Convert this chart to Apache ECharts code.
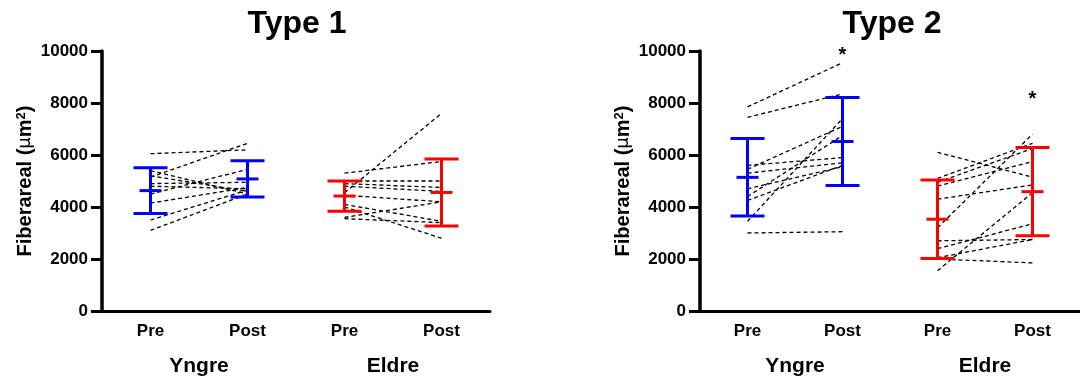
<!DOCTYPE html>
<html>
<head>
<meta charset="utf-8">
<script src="https://cdn.jsdelivr.net/npm/echarts@6/dist/echarts.min.js"></script>
<style>
  html, body { margin: 0; background: #fff; }
  #main { width: 1080px; height: 378px; }
</style>
</head>
<body>
<div id="main"></div>
<script>
// categories on the x axis (group + time point)
const categories = ["Yngre Pre", "Yngre Post", "Eldre Pre", "Eldre Post"];
const groups = ["Yngre", "Eldre"];
const titles = ["Type 1", "Type 2"];

// Type 1 - one value per subject, pre and post
const t1YngrePre = [6050, 5150, 5400, 5200, 4900, 4800, 4500, 4150, 3500, 3100];
const t1YngrePost = [6200, 6450, 4500, 4600, 4950, 4700, 5450, 4750, 4650, 4500];
const t1EldrePre = [5300, 5000, 4900, 4800, 4550, 4450, 4100, 4000, 3600, 3550];
const t1EldrePost = [5750, 5000, 4750, 4600, 7600, 4200, 3450, 2800, 4200, 3400];

// Type 2
const t2YngrePre = [7850, 7450, 5600, 5450, 5300, 4700, 4400, 4250, 3450, 3000];
const t2YngrePost = [9550, 8350, 5900, 7100, 5700, 5550, 6750, 5600, 7400, 3050];
const t2EldrePre = [6100, 5100, 4950, 4800, 4300, 3200, 2700, 2400, 2050, 2000, 1550];
const t2EldrePost = [5150, 6450, 6250, 5750, 4850, 6800, 2750, 3350, 2750, 1850, 4550];

// mean and SD per category (error bars)
const t1Mean = [4630, 5080, 4420, 4560];
const t1Sd = [880, 700, 580, 1290];
const t2Mean = [5140, 6520, 3530, 4590];
const t2Sd = [1490, 1690, 1510, 1700];

// significance stars (category index, value)
const t2Stars = [[1, 9820], [3, 8120]];

const FONT = "Liberation Sans, Arial, sans-serif";
const BLUE = "#0000ff";
const RED = "#ff0000";

const grids = [
    { left: 102, top: 51, width: 388, height: 260 },
    { left: 700, top: 51, width: 388, height: 260 },
];

function makeAxes(gi) {
    const x = [
        {
            type: "category",
            gridIndex: gi,
            data: categories,
            boundaryGap: true,
            axisLine: { lineStyle: { color: "#000", width: 3 } },
            axisTick: { alignWithLabel: true, length: 7, lineStyle: { color: "#000", width: 3 } },
            axisLabel: {
                margin: 12,
                color: "#000",
                fontFamily: FONT,
                fontWeight: "bold",
                fontSize: 17,
                formatter: (v) => v.split(" ")[1],
            },
            splitLine: { show: false },
        },
        {
            type: "category",
            gridIndex: gi,
            position: "bottom",
            data: groups,
            axisLine: { show: false },
            axisTick: { show: false },
            axisLabel: {
                margin: 45,
                color: "#000",
                fontFamily: FONT,
                fontWeight: "bold",
                fontSize: 21,
            },
        },
    ];
    const y = {
        type: "value",
        gridIndex: gi,
        min: 0,
        max: 10000,
        interval: 2000,
        name: "{a|Fiberareal (}{mu|\u03bc}{a|m}{sup|2}{a|)}",
        nameLocation: "middle",
        nameRotate: 90,
        nameGap: 67,
        nameTextStyle: {
            rich: {
                a: { fontFamily: FONT, fontWeight: "bold", fontSize: 20, color: "#000" },
                mu: { fontFamily: "DejaVu Sans", fontWeight: "normal", fontSize: 18, color: "#000" },
                sup: { fontFamily: FONT, fontWeight: "bold", fontSize: 13, color: "#000", verticalAlign: "top" },
            },
        },
        axisLine: { show: true, lineStyle: { color: "#000", width: 3.5 } },
        axisTick: { show: true, length: 11, lineStyle: { color: "#000", width: 3 } },
        axisLabel: {
            margin: 14,
            color: "#000",
            fontFamily: FONT,
            fontWeight: "bold",
            fontSize: 17,
            formatter: (v) => String(v),
        },
        splitLine: { show: false },
    };
    return { x, y };
}

function subjectLines(pre, post, startIdx, xi, yi) {
    return pre.map((p, i) => ({
        type: "line",
        xAxisIndex: xi,
        yAxisIndex: yi,
        data: [[startIdx, p], [startIdx + 1, post[i]]],
        symbol: "none",
        silent: true,
        z: 2,
        lineStyle: { color: "#000", width: 1.3, type: [4, 3] },
    }));
}

function errorBars(mean, sd, xi, yi) {
    return {
        type: "custom",
        xAxisIndex: xi,
        yAxisIndex: yi,
        z: 5,
        silent: true,
        encode: { x: 0, y: 1 },
        data: mean.map((m, i) => [i, m, sd[i]]),
        renderItem: (params, api) => {
            const idx = api.value(0);
            const m = api.value(1);
            const s = api.value(2);
            const top = api.coord([idx, m + s]);
            const mid = api.coord([idx, m]);
            const bot = api.coord([idx, m - s]);
            const style = { stroke: idx < 2 ? BLUE : RED, lineWidth: 3 };
            const hl = (pt, w) => ({
                type: "line",
                shape: { x1: pt[0] - w, y1: pt[1], x2: pt[0] + w, y2: pt[1] },
                style: style,
            });
            return {
                type: "group",
                children: [
                    { type: "line", shape: { x1: top[0], y1: top[1], x2: bot[0], y2: bot[1] }, style: style },
                    hl(top, 17),
                    hl(bot, 17),
                    hl(mid, 11),
                ],
            };
        },
    };
}

const a1 = makeAxes(0);
const a2 = makeAxes(1);

const series = [].concat(
    subjectLines(t1YngrePre, t1YngrePost, 0, 0, 0),
    subjectLines(t1EldrePre, t1EldrePost, 2, 0, 0),
    subjectLines(t2YngrePre, t2YngrePost, 0, 2, 1),
    subjectLines(t2EldrePre, t2EldrePost, 2, 2, 1),
    [errorBars(t1Mean, t1Sd, 0, 0), errorBars(t2Mean, t2Sd, 2, 1)],
    [{
        type: "custom",
        xAxisIndex: 2,
        yAxisIndex: 1,
        silent: true,
        encode: { x: 0, y: 1 },
        data: t2Stars,
        renderItem: (params, api) => {
            const pt = api.coord([api.value(0), api.value(1)]);
            return {
                type: "text",
                x: pt[0],
                y: pt[1],
                style: {
                    text: "*",
                    fill: "#000",
                    font: "bold 20px " + FONT,
                    align: "center",
                    verticalAlign: "middle",
                },
            };
        },
    }]
);

const option = {
    animation: false,
    backgroundColor: "#fff",
    title: [
        {
            text: titles[0], left: 292, top: 3, textAlign: "center",
            textStyle: { fontFamily: FONT, fontWeight: "bold", fontSize: 32, color: "#000" },
        },
        {
            text: titles[1], left: 887, top: 3, textAlign: "center",
            textStyle: { fontFamily: FONT, fontWeight: "bold", fontSize: 32, color: "#000" },
        },
    ],
    grid: grids,
    xAxis: a1.x.concat(a2.x),
    yAxis: [a1.y, a2.y],
    series: series,
};

const chart = echarts.init(document.getElementById("main"), null, { renderer: "canvas" });
chart.setOption(option);
</script>
</body>
</html>
